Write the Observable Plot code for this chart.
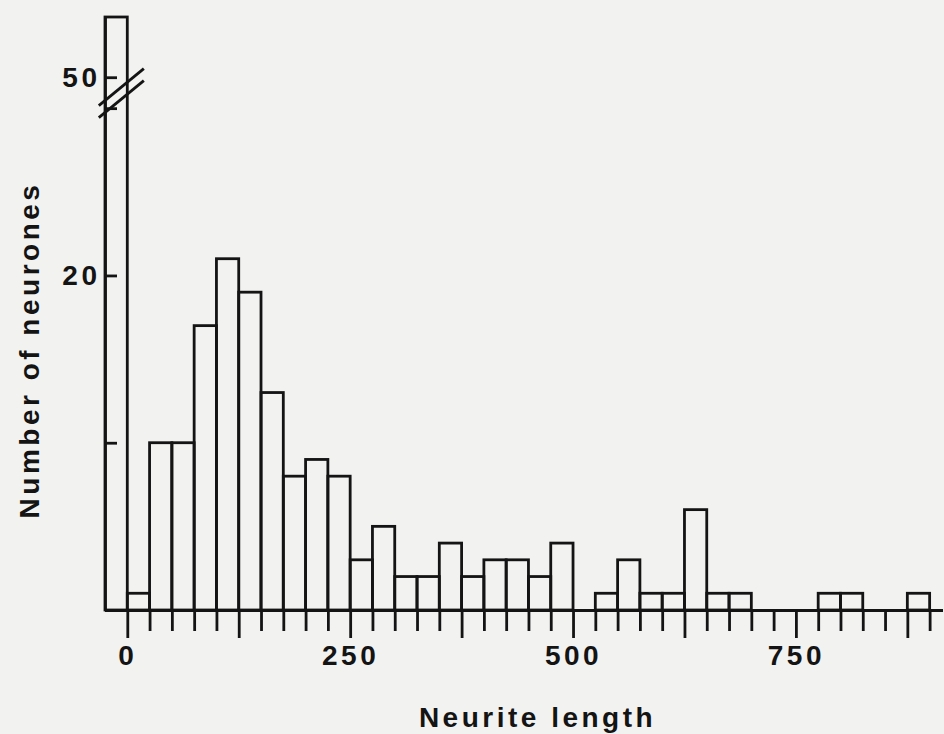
<!DOCTYPE html>
<html><head><meta charset="utf-8">
<script src="https://cdn.jsdelivr.net/npm/d3@7"></script>
<script src="https://cdn.jsdelivr.net/npm/@observablehq/plot@0.6"></script>
<style>
html,body{margin:0;padding:0;background:#f2f2f1;}
#chart svg{display:block;}
</style></head><body><div id="chart"></div>
<script>
// Histogram bins (start of each 25-unit bin; -25 bin = neurones with no neurite)
const binStarts = [-25,0,25,50,75,100,125,150,175,200,225,250,275,300,325,350,375,400,425,450,475,500,525,550,575,600,625,650,675,700,725,750,775,800,825,850,875];
const counts    = [54,1,10,10,17,21,19,13,8,9,8,3,5,2,2,4,2,3,3,2,4,0,1,3,1,1,6,1,1,0,0,0,1,1,0,0,1];
const binWidth = 25;

// Axis ticks and labels
const xTickValues = d3.range(0, 901, 25);
const xLongTicks = xTickValues.filter(d => d % 125 === 0);
const xShortTicks = xTickValues.filter(d => d % 125 !== 0);
const xLabels = [0, 250, 500, 750];
const yTickValues = [10, 20, 30, 50];
const yLabels = [20, 50];
const yBreak = 40; // axis break between 30 and 50

// broken y axis: counts -> display units (30..50 compressed)
const brk = d3.scaleLinear([0, 30, 50, 54], [0, 30, 31.85, 35.45]);
const yMax = brk(54);

const bars = binStarts.map((s, i) => ({x1: s, x2: s + binWidth, count: counts[i]})).filter(d => d.count > 0);

const W = 944, H = 734, mT = 17, mB = 124, mL = 105, mR = 1;
const pxPerUnit = (H - mT - mB) / yMax;
const c = brk(yBreak);
const slashes = [-6, 6].map(off => ({x1: -32.5, x2: 18, y1: c - (18.5 + off) / pxPerUnit, y2: c + (18.5 - off) / pxPerUnit}));

const sw = 2.8, ink = "#141414";
const chart = Plot.plot({
  width: W, height: H,
  marginLeft: mL, marginRight: mR, marginTop: mT, marginBottom: mB,
  style: {background: "transparent", fontFamily: "'Liberation Sans', Arial, Helvetica, sans-serif", color: ink, letterSpacing: "3.5px"},
  x: {domain: [-25, 915], axis: null},
  y: {domain: [0, yMax], axis: null},
  marks: [
    Plot.rectY(bars, {x1: "x1", x2: "x2", y1: 0, y2: d => brk(d.count), fill: "none", stroke: ink, strokeWidth: sw}),
    Plot.ruleY([0], {x1: -25, x2: 915, stroke: ink, strokeWidth: sw}),
    Plot.ruleX([-25], {y1: 0, y2: yMax, stroke: ink, strokeWidth: sw}),
    Plot.axisX({ticks: xShortTicks, tickSize: 21, tickFormat: () => "", label: null, strokeWidth: sw, stroke: ink}),
    Plot.axisX({ticks: xLongTicks, tickSize: 28, tickFormat: () => "", label: null, strokeWidth: sw, stroke: ink}),
    Plot.axisX({ticks: xLabels, tickSize: 0, tickPadding: 35, label: null, fontSize: 28, fontWeight: "bold", tickFormat: d => String(d), fill: ink}),
    Plot.axisY({ticks: yTickValues.map(brk), anchor: "left", tickSize: 12, dx: 12, tickFormat: () => "", label: null, strokeWidth: sw, stroke: ink}),
    Plot.axisY({ticks: yLabels.map(brk), anchor: "left", tickSize: 0, tickPadding: 5, label: null, fontSize: 28, fontWeight: "bold", tickFormat: d => String(Math.round(brk.invert(d))), fill: ink}),
    Plot.link(slashes, {x1: "x1", y1: "y1", x2: "x2", y2: "y2", stroke: ink, strokeWidth: sw}),
    Plot.text(["Neurite length"], {frameAnchor: "bottom", textAnchor: "middle", lineAnchor: "middle", dx: 13, dy: 108, fontSize: 28, fontWeight: "bold", fill: ink}),
    Plot.text(["Number of neurones"], {frameAnchor: "left", textAnchor: "middle", lineAnchor: "middle", rotate: -90, dx: -75, dy: 36, fontSize: 28, fontWeight: "bold", fill: ink})
  ]
});
document.getElementById("chart").appendChild(chart);
</script>
</body></html>
